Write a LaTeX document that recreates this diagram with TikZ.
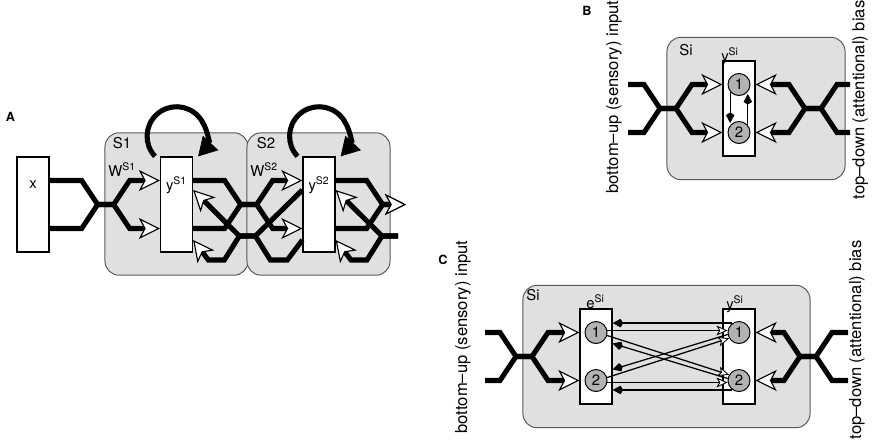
\documentclass[tikz,border=0pt]{standalone}
\usepackage{fontspec}
\setmainfont{TeX Gyre Heros}
\usetikzlibrary{arrows.meta, calc}
\tikzset{
  stagebox/.style={rectangle, draw=black!65, fill=black!12, line width=0.7pt,
                   rounded corners=10pt, minimum height=3.56cm},
  unitbox/.style={rectangle, draw, fill=white, line width=0.9pt,
                  minimum width=0.8cm, minimum height=2.375cm},
  cellnode/.style={circle, draw, fill=black!30, line width=0.7pt,
                   minimum size=0.55cm, inner sep=0pt, font=\fontsize{10.6}{12}\selectfont},
  lbl/.style={inner sep=0pt, font=\fontsize{10.6}{12}\selectfont},
  sidetext/.style={inner sep=0pt, rotate=90, font=\fontsize{11.8}{14}\selectfont},
  panellbl/.style={inner sep=0pt, font=\fontsize{9}{10}\selectfont\bfseries},
  wire/.style={line width=3.6pt},
  wirein/.style={wire, -{Stealth[length=15pt, width=15pt, inset=4pt, fill=white, line width=0.8pt]}},
  selfloop/.style={wire, -{Triangle[length=13pt, width=15pt, line width=0.5pt]}},
  fwdlink/.style={line width=0.9pt, -{Stealth[length=8pt, width=7pt, inset=2pt, fill=white, line width=0.6pt]}},
  backlink/.style={line width=0.9pt, -{Kite[length=7.5pt, width=6pt, line width=0.5pt]}},
}

\begin{document}
\begin{tikzpicture}[x=0.025cm, y=-0.025cm]
  \useasboundingbox (0,0) rectangle (875,442);
  % A: two stages in a row
  \node[panellbl] (la) at (10.5,117) {A};
  \node[stagebox, minimum width=3.575cm] (s1) at (176.5,204) {};
  \node[stagebox, minimum width=3.575cm] (s2) at (318.5,204) {};
  \node[lbl] (s1lab) at (122,143) {S1};
  \node[lbl] (s2lab) at (266,143) {S2};
  \node[unitbox] (x) at (33,204.5) {};
  \node[lbl] (xlab) at (33,185) {x};
  \node[unitbox] (ys1) at (176.5,204.5) {};
  \node[unitbox] (ys2) at (319,204.5) {};
  \node[lbl, anchor=base] (ys1lab) at (176.5,190.5) {y\textsuperscript{S1}};
  \node[lbl, anchor=base] (ys2lab) at (319,190.5) {y\textsuperscript{S2}};
  \node[lbl, anchor=base west] (w1lab) at (108,176) {W\textsuperscript{S1}};
  \node[lbl, anchor=base west] (w2lab) at (250,176) {W\textsuperscript{S2}};
  \coordinate (outA) at (406,204.5);
  \coordinate (fbA) at (398,236);
  \draw[wirein] (x.east |- 0,180.5) -- ++(32,0) -- ++(16,24) -- ++(16,0) -- ++(16,-24) -- (ys1.west |- 0,180.5);
  \draw[wirein] (x.east |- 0,228.5) -- ++(32,0) -- ++(16,-24) -- ++(16,0) -- ++(16,24) -- (ys1.west |- 0,228.5);
  \draw[wirein] (ys1.east |- 0,180.5) -- ++(31.5,0) -- ++(16,24) -- ++(16,0) -- ++(16,-24) -- (ys2.west |- 0,180.5);
  \draw[wirein] (ys1.east |- 0,228.5) -- ++(31.5,0) -- ++(16,-24) -- ++(16,0) -- ++(16,24) -- (ys2.west |- 0,228.5);
  \draw[wirein] (ys2.west |- 0,190) -- ++(-47,46) -- ++(-16,0) -- (ys1.east |- 0,190);
  \draw[wirein] (ys2.west |- 0,240) -- ++(-15,20) -- ++(-17,0) -- ++(-15,-24) -- ++(-16,0)
    -- ++(-15,24) -- ++(-16,0) -- (ys1.east |- 0,240);
  \draw[wirein] (ys2.east |- 0,180.5) -- ++(31,0) -- ++(16,24) -- (outA);
  \draw[wirein] (ys2.east |- 0,228.5) -- ++(31,0) -- ++(16,-24) -- (outA);
  \draw[wirein] (fbA) -- ++(-16,0) -- (ys2.east |- 0,190);
  \draw[wirein] (fbA) -- ++(-16,0) -- ++(-15,24) -- ++(-16,0) -- (ys2.east |- 0,240);
  \draw[selfloop] ($(ys1.north)+(-21.5,0)$) arc[start angle=-223, end angle=43, radius=29.5];
  \draw[selfloop] ($(ys2.north)+(-21.5,0)$) arc[start angle=-223, end angle=43, radius=29.5];

  % B: one stage, two units
  \node[panellbl] (lb) at (587,11) {B};
  \node[sidetext] (buB) at (614,97) {bottom--up (sensory) input};
  \node[sidetext] (tdB) at (860,100) {top--down (attentional) bias};
  \node[stagebox, minimum width=4.45cm] (si) at (756,108.5) {};
  \node[lbl] (silab) at (686,50) {Si};
  \node[unitbox] (by) at (739,108.5) {};
  \node[lbl, anchor=base west] (bylab) at (721,61.5) {y\textsuperscript{Si}};
  \node[cellnode] (b1) at (739,84.5) {1};
  \node[cellnode] (b2) at (739,132.5) {2};
  \coordinate (bu1) at (628,84.5);
  \coordinate (bu2) at (628,132.5);
  \coordinate (bt1) at (850,84.5);
  \coordinate (bt2) at (850,132.5);
  \draw[wirein] (bu1) -- ++(16,0) -- ++(16,24) -- ++(16,0) -- ++(16,-24) -- (by.west |- b1);
  \draw[wirein] (bu2) -- ++(16,0) -- ++(16,-24) -- ++(16,0) -- ++(16,24) -- (by.west |- b2);
  \draw[wirein] (bt1) -- ++(-13,0) -- ++(-16,24) -- ++(-16,0) -- ++(-16,-24) -- (by.east |- b1);
  \draw[wirein] (bt2) -- ++(-13,0) -- ++(-16,-24) -- ++(-16,0) -- ++(-16,24) -- (by.east |- b2);
  \draw[backlink, shorten >=1.5pt] (b1.220) -- (b2.140);
  \draw[backlink, shorten >=1.5pt] (b2.40) -- (b1.320);

  % C: stage with e and y layers
  \node[panellbl] (lc) at (443,260) {C};
  \node[sidetext] (buC) at (463,337) {bottom--up (sensory) input};
  \node[sidetext] (tdC) at (857,340) {top--down (attentional) bias};
  \node[stagebox, minimum width=7.175cm] (sc) at (666.5,356.5) {};
  \node[lbl] (sclab) at (533,295) {Si};
  \node[unitbox] (ce) at (596,356.5) {};
  \node[unitbox] (cy) at (739,356.5) {};
  \node[lbl, anchor=base west] (celab) at (586,308.5) {e\textsuperscript{Si}};
  \node[lbl, anchor=base west] (cylab) at (726,309.5) {y\textsuperscript{Si}};
  \node[cellnode] (e1) at (596,332.5) {1};
  \node[cellnode] (e2) at (596,380.5) {2};
  \node[cellnode] (y1) at (739,332.5) {1};
  \node[cellnode] (y2) at (739,380.5) {2};
  \coordinate (cu1) at (485,332.5);
  \coordinate (cu2) at (485,380.5);
  \coordinate (ct1) at (848,332.5);
  \coordinate (ct2) at (848,380.5);
  \draw[wirein] (cu1) -- ++(15,0) -- ++(16,24) -- ++(16,0) -- ++(16,-24) -- (ce.west |- e1);
  \draw[wirein] (cu2) -- ++(15,0) -- ++(16,-24) -- ++(16,0) -- ++(16,24) -- (ce.west |- e2);
  \draw[wirein] (ct1) -- ++(-16,0) -- ++(-16,24) -- ++(-16,0) -- ++(-16,-24) -- (cy.east |- y1);
  \draw[wirein] (ct2) -- ++(-16,0) -- ++(-16,-24) -- ++(-16,0) -- ++(-16,24) -- (cy.east |- y2);
  \draw[fwdlink] (e1.10) -- (y1.170);
  \draw[fwdlink] (e1.-15) -- (y2.150);
  \draw[fwdlink] (e2.15) -- (y1.210);
  \draw[fwdlink] (e2.-10) -- (y2.190);
  \draw[backlink] (y1.125) -- (ce.east |- y1.125);
  \draw[backlink] (y2.170) -- ($(ce.east |- e1)+(0,11)$);
  \draw[backlink] (y1.190) -- ($(ce.east |- e2)+(0,-11)$);
  \draw[backlink] (y2.235) -- (ce.east |- y2.235);
\end{tikzpicture}
\end{document}
